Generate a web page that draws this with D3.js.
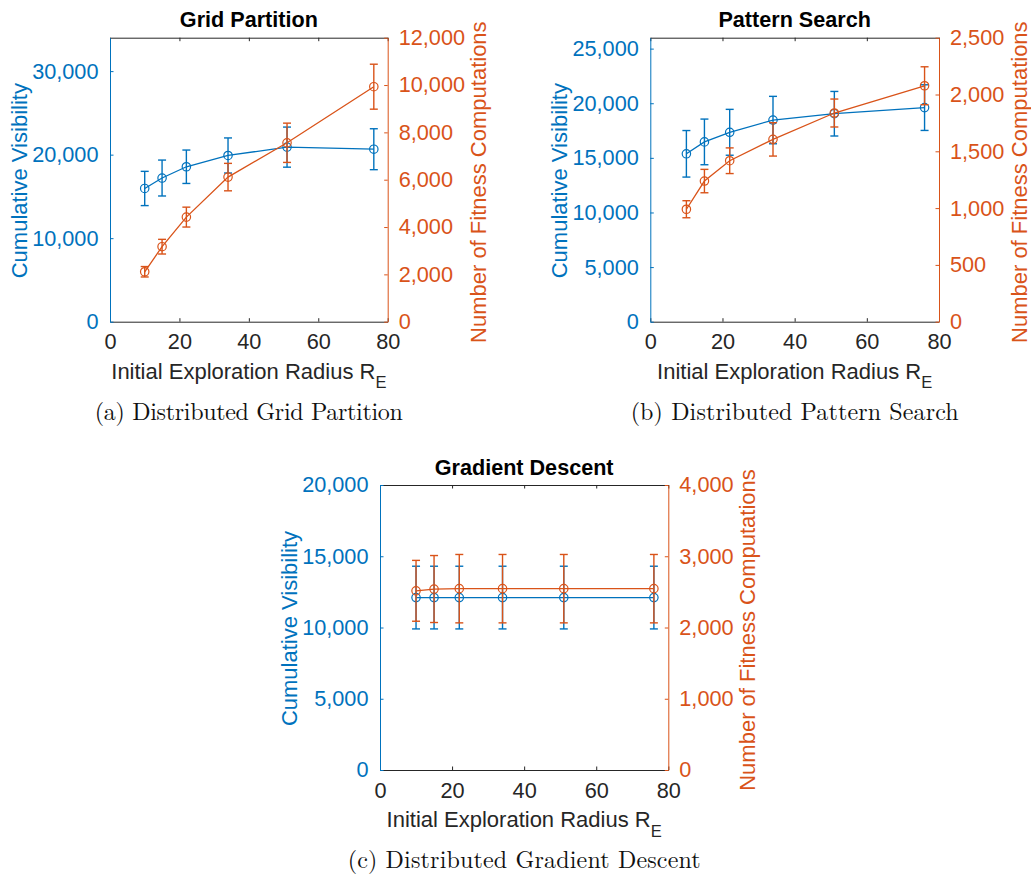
<!DOCTYPE html>
<html><head><meta charset="utf-8">
<script src="https://cdn.jsdelivr.net/npm/d3@7/dist/d3.min.js"></script>
<style>body{margin:0;background:#fff}svg{display:block}</style>
</head><body>
<svg id="chart" width="1031" height="877"></svg>
<script>
// ---------- data ----------
const radius = [10, 15, 22, 34, 51, 76];
const xTicks = [0, 20, 40, 60, 80];

// (a) Grid Partition
const gridVis    = [15950, 17200, 18550, 19900, 20900, 20650];
const gridVisErr = [2050, 2150, 2000, 2100, 2400, 2450];
const gridFit    = [2110, 3170, 4420, 6110, 7560, 9930];
const gridFitErr = [220, 310, 420, 580, 830, 950];
const gridLeftTicks  = [0, 10000, 20000, 30000];
const gridRightTicks = [0, 2000, 4000, 6000, 8000, 10000, 12000];

// (b) Pattern Search
const patVis    = [15370, 16460, 17340, 18460, 19040, 19600];
const patVisErr = [2130, 2090, 2100, 2170, 2040, 2090];
const patFit    = [990, 1238, 1417, 1605, 1837, 2077];
const patFitErr = [75, 103, 113, 147, 123, 167];
const patLeftTicks  = [0, 5000, 10000, 15000, 20000, 25000];
const patRightTicks = [0, 500, 1000, 1500, 2000, 2500];

// (c) Gradient Descent
const gradVis    = [12100, 12100, 12100, 12100, 12100, 12100];
const gradVisErr = [2200, 2200, 2200, 2200, 2200, 2200];
const gradFit    = [2515, 2540, 2545, 2545, 2545, 2545];
const gradFitErr = [427, 470, 480, 480, 480, 480];
const gradLeftTicks  = [0, 5000, 10000, 15000, 20000];
const gradRightTicks = [0, 1000, 2000, 3000, 4000];

const titles   = ["Grid Partition", "Pattern Search", "Gradient Descent"];
const captions = ["(a) Distributed Grid Partition", "(b) Distributed Pattern Search", "(c) Distributed Gradient Descent"];
const leftLabel  = "Cumulative Visibility";
const rightLabel = "Number of Fitness Computations";
const xLabel = "Initial Exploration Radius R";
const xLabelSub = "E";

// ---------- layout / style ----------
const BLUE = "#0072BD", ORANGE = "#D95319", DARK = "#262626";
const FONT = "'Liberation Sans', Arial, Helvetica, sans-serif";
const SERIF = "'Latin Modern Roman','CMU Serif','Liberation Serif','Times New Roman',serif";
const TICK_FS = "21.7px", LABEL_FS = "22px", TITLE_FS = "21.6px";

const panels = [
  {title: titles[0], caption: captions[0], vis: gridVis, visErr: gridVisErr, fit: gridFit, fitErr: gridFitErr,
   leftMax: 34000, leftTicks: gridLeftTicks, rightMax: 12000, rightTicks: gridRightTicks,
   box: {x0: 110, x1: 387.7, y0: 37.7, y1: 321.7}, rOff: 98, capW: 308},
  {title: titles[1], caption: captions[1], vis: patVis, visErr: patVisErr, fit: patFit, fitErr: patFitErr,
   leftMax: 26000, leftTicks: patLeftTicks, rightMax: 2500, rightTicks: patRightTicks,
   box: {x0: 650.3, x1: 939, y0: 37.7, y1: 321.7}, rOff: 87.5, capW: 328},
  {title: titles[2], caption: captions[2], vis: gradVis, visErr: gradVisErr, fit: gradFit, fitErr: gradFitErr,
   leftMax: 20000, leftTicks: gradLeftTicks, rightMax: 4000, rightTicks: gradRightTicks,
   box: {x0: 380, x1: 668.3, y0: 485, y1: 770}, rOff: 87, capW: 353}
];

const svg = d3.select("#chart");
const fmt = d3.format(",");
const TL = 3.5;

panels.forEach(p => {
  const {x0, x1, y0, y1} = p.box;
  const x = d3.scaleLinear().domain([0, 80]).range([x0, x1]);
  const yL = d3.scaleLinear().domain([0, p.leftMax]).range([y1, y0]);
  const yR = d3.scaleLinear().domain([0, p.rightMax]).range([y1, y0]);
  const g = svg.append("g");

  // bottom axis
  const bx = g.append("g").attr("transform", `translate(0,${y1})`)
    .call(d3.axisBottom(x).tickValues(xTicks).tickSizeInner(-TL).tickSizeOuter(0).tickPadding(10));
  bx.select(".domain").attr("stroke", DARK);
  bx.selectAll(".tick line").attr("stroke", DARK);
  bx.selectAll(".tick text").attr("fill", DARK).style("font-family", FONT).style("font-size", TICK_FS).attr("dy", "0.82em");
  // top axis (no labels)
  const tx = g.append("g").attr("transform", `translate(0,${y0})`)
    .call(d3.axisTop(x).tickValues(xTicks).tickSizeInner(-TL).tickSizeOuter(0).tickFormat(""));
  tx.select(".domain").attr("stroke", DARK);
  tx.selectAll(".tick line").attr("stroke", DARK);

  // left axis
  const la = g.append("g").attr("transform", `translate(${x0},0)`)
    .call(d3.axisLeft(yL).tickValues(p.leftTicks).tickFormat(fmt).tickSizeInner(-TL).tickSizeOuter(0).tickPadding(11.5));
  la.select(".domain").attr("stroke", BLUE);
  la.selectAll(".tick line").attr("stroke", BLUE);
  la.selectAll(".tick text").attr("fill", BLUE).style("font-family", FONT).style("font-size", TICK_FS);
  // right axis
  const ra = g.append("g").attr("transform", `translate(${x1},0)`)
    .call(d3.axisRight(yR).tickValues(p.rightTicks).tickFormat(fmt).tickSizeInner(-TL).tickSizeOuter(0).tickPadding(11));
  ra.select(".domain").attr("stroke", ORANGE);
  ra.selectAll(".tick line").attr("stroke", ORANGE);
  ra.selectAll(".tick text").attr("fill", ORANGE).style("font-family", FONT).style("font-size", TICK_FS);

  // title
  g.append("text").attr("x", (x0 + x1) / 2).attr("y", y0 - 10.5).attr("text-anchor", "middle")
    .style("font-family", FONT).style("font-size", TITLE_FS).style("font-weight", "bold").attr("fill", "#000")
    .text(p.title);

  // x label with subscript
  const xl = g.append("text").attr("x", (x0 + x1) / 2).attr("y", y1 + 57).attr("text-anchor", "middle")
    .style("font-family", FONT).style("font-size", LABEL_FS).attr("fill", DARK);
  xl.append("tspan").text(xLabel);
  xl.append("tspan").attr("dy", 9.5).style("font-size", "16.5px").text(xLabelSub);

  // y labels
  const cy = (y0 + y1) / 2 + 1;
  g.append("text").attr("transform", `translate(${x0 - 83},${cy}) rotate(-90)`).attr("text-anchor", "middle")
    .style("font-family", FONT).style("font-size", LABEL_FS).attr("fill", BLUE).text(leftLabel);
  g.append("text").attr("transform", `translate(${x1 + p.rOff},${cy + 1.5}) rotate(-90)`).attr("text-anchor", "middle")
    .style("font-family", FONT).style("font-size", LABEL_FS).attr("fill", ORANGE).text(rightLabel);

  // caption
  g.append("text").attr("x", (x0 + x1) / 2).attr("y", y1 + 98).attr("text-anchor", "middle")
    .style("font-family", SERIF).style("font-size", "24px").attr("fill", "#111")
    .attr("textLength", p.capW).attr("lengthAdjust", "spacing")
    .text(p.caption);

  // series
  const drawSeries = (vals, errs, y, color) => {
    const s = g.append("g");
    const data = radius.map((r, i) => ({r, v: vals[i], e: errs[i]}));
    s.append("path").datum(data)
      .attr("d", d3.line().x(d => x(d.r)).y(d => y(d.v)))
      .attr("fill", "none").attr("stroke", color).attr("stroke-width", 1.3);
    const eb = s.selectAll(".eb").data(data).enter().append("g").attr("stroke", color).attr("stroke-width", 1.4);
    eb.append("line").attr("x1", d => x(d.r)).attr("x2", d => x(d.r))
      .attr("y1", d => y(d.v - d.e)).attr("y2", d => y(d.v + d.e));
    eb.append("line").attr("x1", d => x(d.r) - 4).attr("x2", d => x(d.r) + 4)
      .attr("y1", d => y(d.v + d.e)).attr("y2", d => y(d.v + d.e));
    eb.append("line").attr("x1", d => x(d.r) - 4).attr("x2", d => x(d.r) + 4)
      .attr("y1", d => y(d.v - d.e)).attr("y2", d => y(d.v - d.e));
    s.selectAll("circle").data(data).enter().append("circle")
      .attr("cx", d => x(d.r)).attr("cy", d => y(d.v)).attr("r", 4.2)
      .attr("fill", "none").attr("stroke", color).attr("stroke-width", 1.2);
  };
  drawSeries(p.vis, p.visErr, yL, BLUE);
  drawSeries(p.fit, p.fitErr, yR, ORANGE);
});
</script>
</body></html>
